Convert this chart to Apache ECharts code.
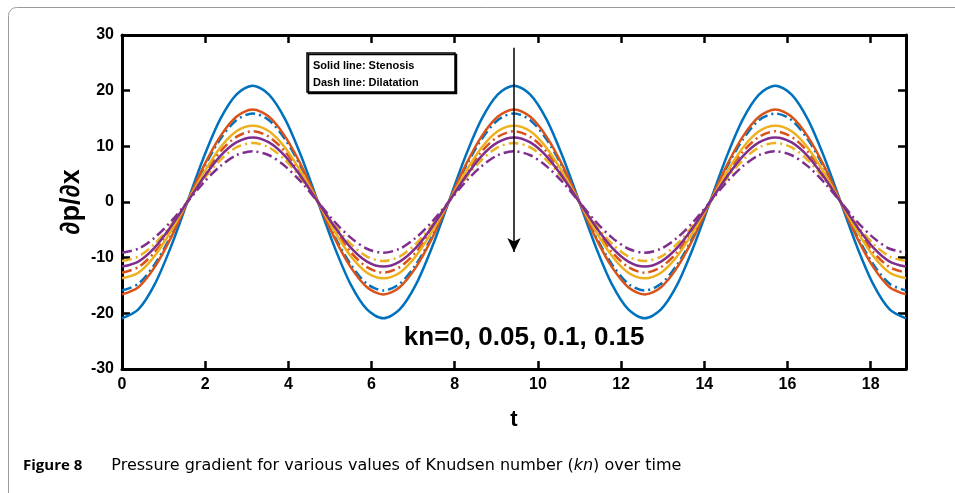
<!DOCTYPE html>
<html><head><meta charset="utf-8">
<script src="https://cdn.jsdelivr.net/npm/echarts@6/dist/echarts.min.js"></script>
<style>html,body{margin:0;padding:0;background:#fff}#c{width:955px;height:493px}</style>
</head><body><div id="c"></div>
<script>
// time samples (t = k*pi/8)
const tValues = [0,0.393,0.785,1.178,1.571,1.963,2.356,2.749,3.142,3.534,3.927,4.320,4.712,5.105,5.498,5.890,
  6.283,6.676,7.069,7.461,7.854,8.247,8.639,9.032,9.425,9.817,10.210,10.603,10.996,11.388,11.781,12.174,
  12.566,12.959,13.352,13.744,14.137,14.530,14.923,15.315,15.708,16.101,16.493,16.886,17.279,17.671,18.064,18.457,18.850];
// Stenosis (solid lines), kn = 0, 0.05, 0.1, 0.15
const stenKn0 = [-20.9,-19.3,-14.8,-8.0,0,8.0,14.8,19.3,20.9,19.3,14.8,8.0,0,-8.0,-14.8,-19.3,
  -20.9,-19.3,-14.8,-8.0,0,8.0,14.8,19.3,20.9,19.3,14.8,8.0,0,-8.0,-14.8,-19.3,
  -20.9,-19.3,-14.8,-8.0,0,8.0,14.8,19.3,20.9,19.3,14.8,8.0,0,-8.0,-14.8,-19.3,-20.9];
const stenKn005 = [-16.6,-15.3,-11.7,-6.4,0,6.4,11.7,15.3,16.6,15.3,11.7,6.4,0,-6.4,-11.7,-15.3,
  -16.6,-15.3,-11.7,-6.4,0,6.4,11.7,15.3,16.6,15.3,11.7,6.4,0,-6.4,-11.7,-15.3,
  -16.6,-15.3,-11.7,-6.4,0,6.4,11.7,15.3,16.6,15.3,11.7,6.4,0,-6.4,-11.7,-15.3,-16.6];
const stenKn01 = [-13.7,-12.7,-9.7,-5.2,0,5.2,9.7,12.7,13.7,12.7,9.7,5.2,0,-5.2,-9.7,-12.7,
  -13.7,-12.7,-9.7,-5.2,0,5.2,9.7,12.7,13.7,12.7,9.7,5.2,0,-5.2,-9.7,-12.7,
  -13.7,-12.7,-9.7,-5.2,0,5.2,9.7,12.7,13.7,12.7,9.7,5.2,0,-5.2,-9.7,-12.7,-13.7];
const stenKn015 = [-11.6,-10.7,-8.2,-4.4,0,4.4,8.2,10.7,11.6,10.7,8.2,4.4,0,-4.4,-8.2,-10.7,
  -11.6,-10.7,-8.2,-4.4,0,4.4,8.2,10.7,11.6,10.7,8.2,4.4,0,-4.4,-8.2,-10.7,
  -11.6,-10.7,-8.2,-4.4,0,4.4,8.2,10.7,11.6,10.7,8.2,4.4,0,-4.4,-8.2,-10.7,-11.6];
// Dilatation (dash lines), kn = 0, 0.05, 0.1, 0.15
const dilKn0 = [-15.9,-14.7,-11.2,-6.1,0,6.1,11.2,14.7,15.9,14.7,11.2,6.1,0,-6.1,-11.2,-14.7,
  -15.9,-14.7,-11.2,-6.1,0,6.1,11.2,14.7,15.9,14.7,11.2,6.1,0,-6.1,-11.2,-14.7,
  -15.9,-14.7,-11.2,-6.1,0,6.1,11.2,14.7,15.9,14.7,11.2,6.1,0,-6.1,-11.2,-14.7,-15.9];
const dilKn005 = [-12.7,-11.7,-9.0,-4.9,0,4.9,9.0,11.7,12.7,11.7,9.0,4.9,0,-4.9,-9.0,-11.7,
  -12.7,-11.7,-9.0,-4.9,0,4.9,9.0,11.7,12.7,11.7,9.0,4.9,0,-4.9,-9.0,-11.7,
  -12.7,-11.7,-9.0,-4.9,0,4.9,9.0,11.7,12.7,11.7,9.0,4.9,0,-4.9,-9.0,-11.7,-12.7];
const dilKn01 = [-10.6,-9.8,-7.5,-4.1,0,4.1,7.5,9.8,10.6,9.8,7.5,4.1,0,-4.1,-7.5,-9.8,
  -10.6,-9.8,-7.5,-4.1,0,4.1,7.5,9.8,10.6,9.8,7.5,4.1,0,-4.1,-7.5,-9.8,
  -10.6,-9.8,-7.5,-4.1,0,4.1,7.5,9.8,10.6,9.8,7.5,4.1,0,-4.1,-7.5,-9.8,-10.6];
const dilKn015 = [-9.1,-8.4,-6.4,-3.5,0,3.5,6.4,8.4,9.1,8.4,6.4,3.5,0,-3.5,-6.4,-8.4,
  -9.1,-8.4,-6.4,-3.5,0,3.5,6.4,8.4,9.1,8.4,6.4,3.5,0,-3.5,-6.4,-8.4,
  -9.1,-8.4,-6.4,-3.5,0,3.5,6.4,8.4,9.1,8.4,6.4,3.5,0,-3.5,-6.4,-8.4,-9.1];
const xTicks = [0,2,4,6,8,10,12,14,16,18];
const yTicks = [-30,-20,-10,0,10,20,30];
const arrowX = 9.425, arrowTop = 27.7, arrowBottom = -9;
const knLabel = 'kn=0, 0.05, 0.1, 0.15';
const knLabelAt = [9.67, -24.4];

const colors = ['#0072BD','#D95319','#EDB120','#7E2F8E'];
const solid = [stenKn0, stenKn005, stenKn01, stenKn015];
const dashed = [dilKn0, dilKn005, dilKn01, dilKn015];
const pair = arr => tValues.map((t,i)=>[t, arr[i]]);
const series = [];
dashed.forEach((d,i)=>series.push({type:'line',data:pair(d),smooth:0.3,showSymbol:false,silent:true,
  lineStyle:{color:colors[i],width:2.5,type:[10,4,2,4]},z:3}));
solid.forEach((d,i)=>series.push({type:'line',data:pair(d),smooth:0.3,showSymbol:false,silent:true,
  lineStyle:{color:colors[i],width:2.5,type:'solid'},z:3}));
series.push({type:'line',data:[],markLine:{silent:true,symbol:['none','arrow'],symbolSize:[10,14],
  lineStyle:{color:'#000',width:1.5,type:'solid'},label:{show:false},
  data:[[{coord:[arrowX,arrowTop]},{coord:[arrowX,arrowBottom]}]]}});

const lab = {fontFamily:'Liberation Sans, Arial',fontWeight:'bold',fontSize:16,color:'#000'};
const chart = echarts.init(document.getElementById('c'));
chart.setOption({
  animation:false,
  grid:{left:122,right:49,top:35,bottom:124},
  xAxis:[{type:'value',min:0,max:18.85,interval:2,
    axisLine:{onZero:false,lineStyle:{color:'#000',width:3}},
    axisTick:{inside:true,length:8,lineStyle:{width:2.5,color:'#000'}},
    axisLabel:Object.assign({margin:8,formatter:v=>xTicks.includes(v)?String(v):''},lab),
    splitLine:{show:false},
    name:'t',nameLocation:'middle',nameGap:40,nameMoveOverlap:false,nameTextStyle:{fontFamily:'Liberation Sans, Arial',fontWeight:'bold',fontSize:22,color:'#000'}},
   {type:'value',position:'top',min:0,max:18.85,interval:2,
    axisLine:{onZero:false,lineStyle:{color:'#000',width:3}},
    axisTick:{inside:true,length:8,lineStyle:{width:2.5,color:'#000'}},
    axisLabel:{show:false},splitLine:{show:false}}],
  yAxis:[{type:'value',min:-30,max:30,interval:10,
    axisLine:{show:true,onZero:false,lineStyle:{color:'#000',width:3}},
    axisTick:{show:true,inside:true,length:8,lineStyle:{width:2.5,color:'#000'}},
    axisLabel:Object.assign({margin:8,formatter:v=>yTicks.includes(v)?String(v):''},lab),
    splitLine:{show:false},
    name:'∂p/∂x',nameLocation:'middle',nameGap:37,nameRotate:90,nameMoveOverlap:false,
    nameTextStyle:{fontFamily:'Liberation Sans, Arial',fontWeight:'bold',fontSize:27,color:'#000'}},
   {type:'value',position:'right',min:-30,max:30,interval:10,
    axisLine:{show:true,onZero:false,lineStyle:{color:'#000',width:3}},
    axisTick:{show:true,inside:true,length:8,lineStyle:{width:2.5,color:'#000'}},
    axisLabel:{show:false},splitLine:{show:false}}],
  series:series,
  graphic:[
    {type:'rect',left:6,top:5,shape:{width:1000,height:600,r:8},style:{fill:'none',stroke:'#9a9a9a',lineWidth:1},silent:true,z:0},
    {type:'rect',shape:{x:307,y:53,width:148,height:39},style:{fill:'#fff',stroke:'#000',lineWidth:1.5,shadowColor:'#000',shadowOffsetX:1.5,shadowOffsetY:1.5,shadowBlur:0},z:10},
    {type:'text',x:313,y:57,style:{text:'Solid line: Stenosis\nDash line: Dilatation',fontFamily:'Liberation Sans, Arial',fontWeight:'bold',fontSize:11,fill:'#000',lineHeight:17},z:11},
    {type:'text',x:23,y:458,style:{rich:{b:{fontFamily:'Open Sans',fontWeight:'bold',fontSize:15,fill:'#000'},g:{width:29},n:{fontFamily:'DejaVu Sans',fontSize:16,fill:'#000'},i:{fontFamily:'DejaVu Sans',fontStyle:'italic',fontSize:16,fill:'#000'}},
      text:'{b|Figure 8}{g|}{n|Pressure gradient for various values of Knudsen number (}{i|kn}{n|) over time}'},z:11}
  ]
});
const p = chart.convertToPixel({xAxisIndex:0,yAxisIndex:0},knLabelAt);
chart.setOption({graphic:[{},{},{},{},{type:'text',x:p[0],y:p[1],style:{text:knLabel,fontFamily:'Liberation Sans, Arial',fontWeight:'bold',fontSize:26,fill:'#000',align:'center',verticalAlign:'middle'},z:11}]});
</script></body></html>
